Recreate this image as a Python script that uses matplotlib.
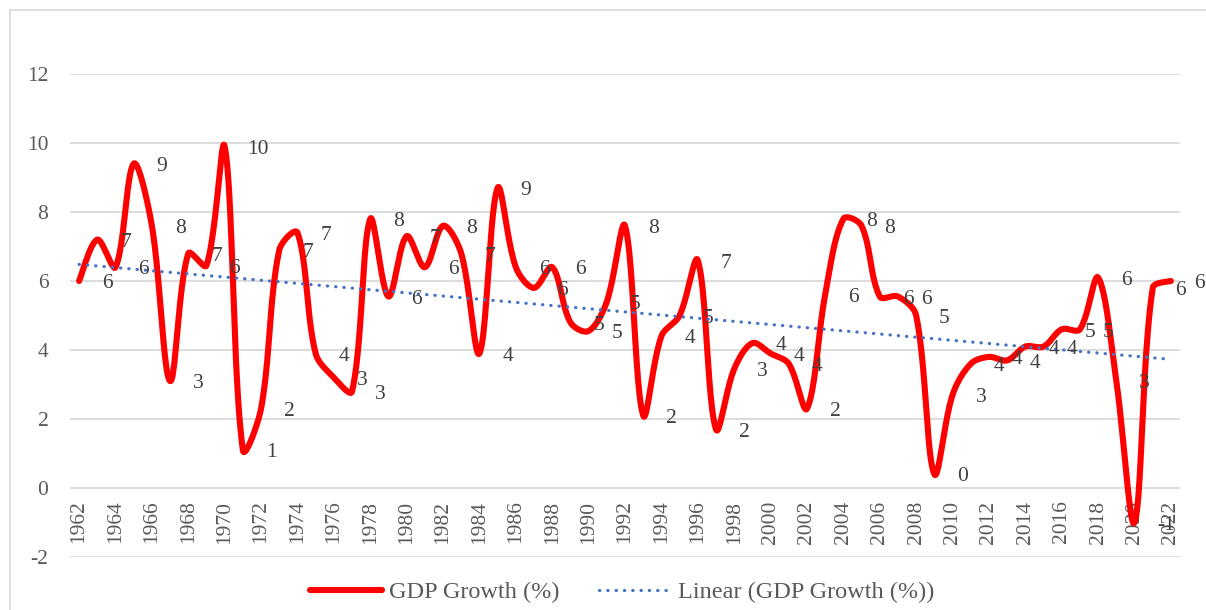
import numpy as np
import matplotlib
matplotlib.use("Agg")
import matplotlib.pyplot as plt
from matplotlib.lines import Line2D

# GDP growth (%), 1962-2022
years = list(range(1962, 2023))
growth = [6.0, 7.2, 6.4, 9.4, 7.6, 3.1, 6.8, 6.45, 9.9, 1.1,
          2.3, 6.9, 7.4, 3.9, 3.2, 2.8, 7.8, 5.55, 7.3, 6.4,
          7.6, 6.8, 3.9, 8.7, 6.4, 5.8, 6.4, 4.8, 4.55, 5.4,
          7.6, 2.1, 4.4, 5.0, 6.6, 1.7, 3.45, 4.2, 3.9, 3.6,
          2.3, 5.6, 7.8, 7.6, 5.55, 5.55, 5.0, 0.4, 2.7, 3.6,
          3.8, 3.7, 4.1, 4.1, 4.6, 4.6, 6.1, 3.1, -1.0, 5.8,
          6.0]
yticks = [-2, 0, 2, 4, 6, 8, 10, 12]
xlabels = years[::2]

plt.rcParams['font.family'] = ['Liberation Serif', 'DejaVu Serif']
TXT = '#595959'
FS = 15.5

# pixels per x / y unit, used so smoothing is done in screen space like excel
PX, PY = 18.2, 34.5


def smooth(x, y, n=24):
    # bezier smoothing, control arms weighted by neighbouring segment lengths
    P = np.column_stack([np.asarray(x, float) * PX, np.asarray(y, float) * PY])
    m = len(P)
    cf = np.zeros_like(P)
    cb = np.zeros_like(P)
    for i in range(m):
        a = P[max(i - 1, 0)]
        c = P[min(i + 1, m - 1)]
        d = c - a
        l1 = np.hypot(*(P[i] - a))
        l2 = np.hypot(*(c - P[i]))
        s = l1 + l2
        if i == 0 or i == m - 1:
            cf[i] = P[i] + d / 6
            cb[i] = P[i] - d / 6
        else:
            cf[i] = P[i] + d * (l2 / s) / 3
            cb[i] = P[i] - d * (l1 / s) / 3
    t = np.linspace(0, 1, n, endpoint=False)[:, None]
    pts = []
    for i in range(m - 1):
        p1, c1, c2, p2 = P[i], cf[i], cb[i + 1], P[i + 1]
        pts.append(((1 - t) ** 3) * p1 + 3 * ((1 - t) ** 2) * t * c1
                   + 3 * (1 - t) * t ** 2 * c2 + t ** 3 * p2)
    pts.append(P[-1:])
    pts = np.vstack(pts)
    return pts[:, 0] / PX, pts[:, 1] / PY


fig = plt.figure(figsize=(12.06, 6.10), dpi=100)
ax = fig.add_axes([70 / 1206, 1 - 557 / 610, 1110 / 1206, (557 - 74) / 610])

ax.set_xlim(1961.5, 2022.5)
ax.set_ylim(-2, 12)
ax.set_yticks(yticks)
ax.set_yticklabels([str(v) for v in yticks], fontsize=FS, color=TXT)
ax.tick_params(axis='y', length=0, pad=15.5)
ax.set_xticks([])
ax.grid(axis='y', color='#D9D9D9', lw=1.3)
ax.set_axisbelow(True)
for s in ax.spines.values():
    s.set_visible(False)

# category labels sit under the zero line
for yr in xlabels:
    ax.annotate(str(yr), (yr, 0), xytext=(0, -9), textcoords='offset points',
                rotation=90, ha='center', va='top', fontsize=FS, color=TXT)

sx, sy = smooth(years, growth)
ax.plot(sx, sy, color='#FF0000', lw=4.4, solid_capstyle='round',
        solid_joinstyle='round', zorder=3)

# linear trend
k, b = np.polyfit(years, growth, 1)
tx = np.array([years[0], years[-1]])
ax.plot(tx, k * tx + b, color='#4472C4', lw=2.3, linestyle=(0, (0.1, 2.5)),
        dash_capstyle='round', zorder=4)

# data labels to the right of each point
for yr, v in zip(years, growth):
    lab = str(int(np.floor(v + 0.5)))
    ax.annotate(lab, (yr, v), xytext=(16.5, -2), textcoords='offset points',
                ha='left', va='center', fontsize=FS, color='#404040', zorder=5)

handles = [Line2D([], [], color='#FF0000', lw=4.4, solid_capstyle='round'),
           Line2D([], [], color='#4472C4', lw=2.3, linestyle=(0, (0.1, 2.5)), dash_capstyle='round')]
fig.legend(handles, ['GDP Growth (%)', 'Linear (GDP Growth (%))'], loc='center',
           bbox_to_anchor=(622 / 1206, 1 - 592 / 610), ncol=2, frameon=False,
           fontsize=17.5, labelcolor=TXT, handlelength=2.95, handletextpad=0.3,
           columnspacing=1.6)

# chart border
fig.add_artist(Line2D([10 / 1206, 10 / 1206], [0, 1 - 10 / 610], transform=fig.transFigure, color='#D9D9D9', lw=1.2))
fig.add_artist(Line2D([10 / 1206, 1], [1 - 10 / 610, 1 - 10 / 610], transform=fig.transFigure, color='#D9D9D9', lw=1.2))

fig.savefig('out.png', dpi=100)
